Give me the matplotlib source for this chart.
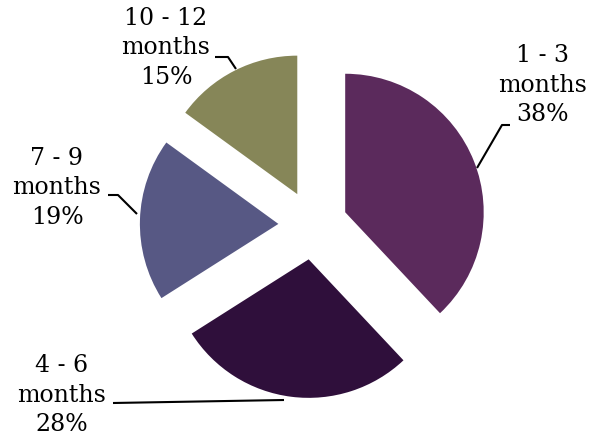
import matplotlib
matplotlib.use("Agg")
import matplotlib.pyplot as plt

# Time-to-completion breakdown
categories = ["1 - 3\nmonths", "4 - 6\nmonths", "7 - 9\nmonths", "10 - 12\nmonths"]
shares = [38, 28, 19, 15]
colors = ["#5B2A5C", "#2F0F3B", "#575884", "#868658"]

W, H, DPI = 598, 438, 100
fig = plt.figure(figsize=(W / DPI, H / DPI), dpi=DPI)
ax = fig.add_axes([0, 0, 1, 1])

wedges, _ = ax.pie(shares, startangle=90, counterclock=False, radius=1.0,
                   explode=[0.25] * len(shares), colors=colors,
                   wedgeprops=dict(linewidth=0))

# pixel layout helpers: pie centre and scale
cx, cy, scale = 313, 225, 138.5
ax.set_xlim(-cx / scale, (W - cx) / scale)
ax.set_ylim(-(H - cy) / scale, cy / scale)
ax.set_aspect("equal")
ax.axis("off")


def P(px, py):
    return ((px - cx) / scale, (cy - py) / scale)


# label anchor (pixels) and leader-line path (pixels) for each slice
label_pos = [(543, 85), (62, 395), (57, 188), (166, 48)]
leaders = [
    [(510, 125), (502, 125), (477, 168)],
    [(113, 403), (284, 400)],
    [(108, 195), (118, 195), (137, 214)],
    [(215, 57), (228, 57), (236, 69)],
]

for cat, val, (lx, ly), path in zip(categories, shares, label_pos, leaders):
    x, y = P(lx, ly)
    ax.text(x, y, f"{cat}\n{val}%", ha="center", va="center",
            fontsize=17, family="DejaVu Serif", linespacing=1.37, color="black")
    xs, ys = zip(*[P(px, py) for px, py in path])
    ax.plot(xs, ys, color="black", lw=1.5, solid_capstyle="butt")

fig.savefig("out.png", dpi=DPI)
